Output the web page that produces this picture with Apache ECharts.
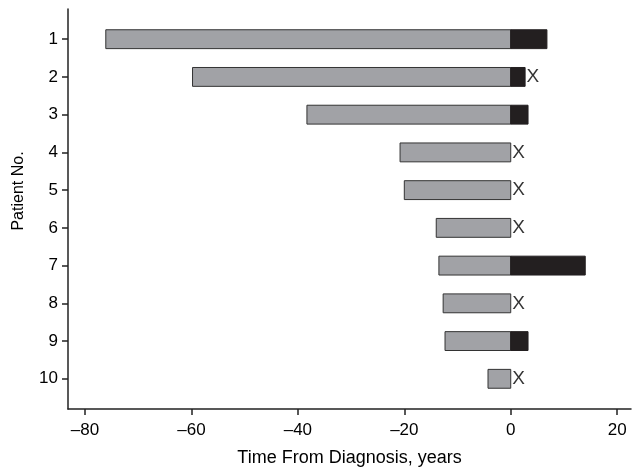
<!DOCTYPE html>
<html><head><meta charset="utf-8">
<script src="https://cdn.jsdelivr.net/npm/echarts@6/dist/echarts.min.js"></script>
<style>html,body{margin:0;padding:0;background:#fff}#c{width:633px;height:472px}</style>
</head><body><div id="c"></div>
<script>
const patients = [1, 2, 3, 4, 5, 6, 7, 8, 9, 10];
const beforeDiagnosis = [-76.1, -59.8, -38.3, -20.8, -20.0, -14.0, -13.5, -12.7, -12.35, -4.27];
const afterDiagnosis = [6.8, 2.7, 3.25, 0, 0, 0, 14.0, 0, 3.25, 0];
const deceased = [false, true, false, true, true, true, false, true, false, true];
const xTicks = [-80, -60, -40, -20, 0, 20];

const grayData = patients.map((p, i) => [beforeDiagnosis[i], 0, p]);
const blackData = patients.map((p, i) => [0, afterDiagnosis[i], p]).filter(d => d[1] > 0);
const markData = patients.map((p, i) => [Math.max(0, afterDiagnosis[i]), p]).filter((d, i) => deceased[i]);

function barItem(fill, stroke) {
  return function (params, api) {
    const a = api.coord([api.value(0), api.value(2)]);
    const b = api.coord([api.value(1), api.value(2)]);
    const h = api.size([0, 1])[1] * 0.5;
    return {
      type: 'rect',
      shape: { x: Math.min(a[0], b[0]), y: a[1] - h / 2, width: Math.abs(b[0] - a[0]), height: h },
      style: { fill: fill, stroke: stroke, lineWidth: 1 }
    };
  };
}

const chart = echarts.init(document.getElementById('c'), null, { renderer: 'canvas' });
const font = 'Liberation Sans, Arial, sans-serif';
chart.setOption({
  animation: false,
  backgroundColor: '#fff',
  grid: { left: 68, right: 2, top: 9, bottom: 63, containLabel: false, outerBoundsMode: 'none' },
  xAxis: {
    type: 'value', min: -83.2, max: 22.6,
    name: 'Time From Diagnosis, years', nameLocation: 'middle', nameGap: 40,
    nameTextStyle: { fontFamily: font, fontSize: 18, color: '#000' },
    axisLine: { show: true, onZero: false, lineStyle: { color: '#222', width: 1.5 } },
    axisTick: { show: true, customValues: xTicks, length: 6, lineStyle: { color: '#222', width: 1.5 } },
    axisLabel: { customValues: xTicks, margin: 13, fontFamily: font, fontSize: 17, color: '#000',
      formatter: v => String(v).replace('-', '\u2013') },
    splitLine: { show: false }
  },
  yAxis: {
    type: 'value', min: 0.2, max: 10.8, inverse: true,
    name: 'Patient No.', nameLocation: 'middle', nameGap: 41, nameRotate: 90,
    nameTextStyle: { fontFamily: font, fontSize: 16, color: '#000', padding: [0, 0, 0, 36] },
    axisLine: { show: true, onZero: false, lineStyle: { color: '#222', width: 1.5 } },
    axisTick: { show: true, customValues: patients, length: 6, lineStyle: { color: '#222', width: 1.5 } },
    axisLabel: { customValues: patients, margin: 10, fontFamily: font, fontSize: 17, color: '#000' },
    splitLine: { show: false }
  },
  series: [
    { type: 'custom', name: 'Before diagnosis', renderItem: barItem('#a1a2a6', '#333'),
      encode: { x: [0, 1], y: 2 }, data: grayData },
    { type: 'custom', name: 'After diagnosis', renderItem: barItem('#231f20', '#231f20'),
      encode: { x: [0, 1], y: 2 }, data: blackData },
    { type: 'scatter', name: 'Deceased', symbolSize: 1, itemStyle: { color: 'rgba(0,0,0,0)' },
      data: markData,
      label: { show: true, formatter: 'X', position: 'right', distance: 1,
        fontFamily: font, fontSize: 19, color: '#000' } }
  ]
});
</script></body></html>
